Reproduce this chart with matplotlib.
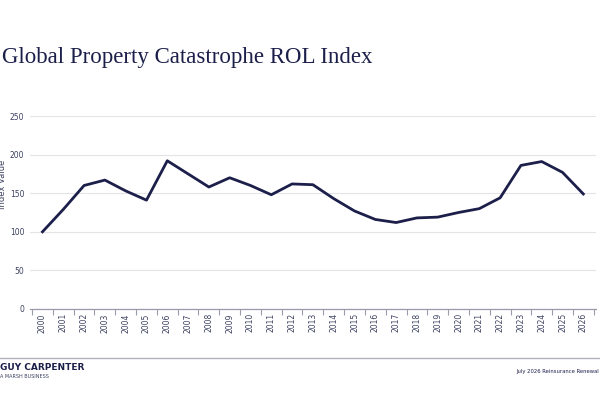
import numpy as np
import matplotlib
matplotlib.use("Agg")
import matplotlib.pyplot as plt

# dados
anos = [str(a) for a in range(2000, 2027)]
indice = [100, 129, 160, 167, 153, 141, 192, 175, 158, 170, 160, 148, 162,
          161, 143, 127, 116, 112, 118, 119, 125, 130, 144, 186, 191, 177, 149]
yticks = [0, 50, 100, 150, 200, 250]

navy = "#1c1f4a"
cinza = "#3c4160"

fig = plt.figure(figsize=(6, 4), dpi=100)
ax = fig.add_axes([0.05, 0.2275, 0.943, 0.4825])

x = np.arange(len(anos))
ax.plot(x, indice, color=navy, linewidth=2)

ax.set_xlim(-0.6, len(anos) - 0.4)
ax.set_ylim(0, 250)
ax.set_yticks(yticks)
ax.set_xticks(x)
ax.set_xticklabels(anos, rotation=90, fontsize=5.5, color=cinza)
ax.set_xticks(np.arange(-0.5, len(anos)), minor=True)
ax.tick_params(axis="x", which="major", length=0, pad=3)
ax.tick_params(axis="x", which="minor", length=4, color="#9a9cab", width=0.8)
ax.tick_params(axis="y", length=0, labelsize=5.5, labelcolor=cinza, pad=4)
ax.grid(axis="y", color="#e4e4e8", linewidth=0.8)
ax.set_axisbelow(True)
for s in ["top", "right", "left"]:
    ax.spines[s].set_visible(False)
ax.spines["bottom"].set_color("#9a9cab")
ax.spines["bottom"].set_linewidth(0.9)

fig.text(0.005, 0.54, "Index Value", rotation=90, fontsize=6, color=cinza,
         ha="center", va="center")

fig.text(0.003, 0.855, "Global Property Catastrophe ROL Index",
         fontsize=16.5, family="Liberation Serif", color=navy, va="center")

# rodape
fig.add_artist(plt.Line2D([0, 1], [0.105, 0.105], color="#b0b2bd", linewidth=1))
fig.text(0.0, 0.08, "GUY CARPENTER", fontsize=6.5, fontweight="bold",
         color=navy, va="center")
fig.text(0.0, 0.06, "A MARSH BUSINESS", fontsize=3.5, color=cinza, va="center")
fig.text(0.998, 0.07, "July 2026 Reinsurance Renewal", fontsize=3.8,
         color=navy, ha="right", va="center")

fig.savefig("out.png", dpi=100, facecolor="white")
